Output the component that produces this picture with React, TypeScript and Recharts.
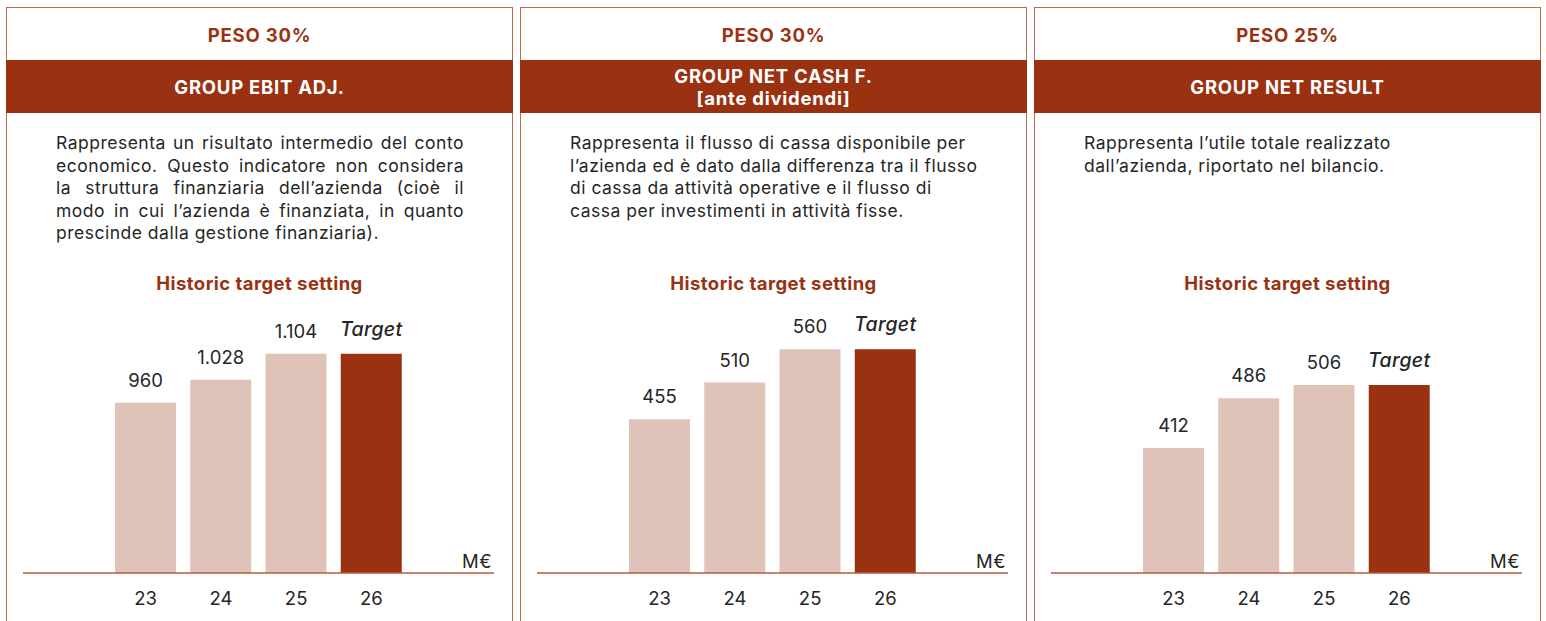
import React from 'react';
import { BarChart, Bar, XAxis, YAxis, Cell, LabelList } from 'recharts';

const categories = ['23', '24', '25', '26'];

const ebitValues = [960, 1028, 1104, 1104];
const ebitLabels = ['960', '1.028', '1.104', 'Target'];

const cashValues = [455, 510, 560, 560];
const cashLabels = ['455', '510', '560', 'Target'];

const resultValues = [412, 486, 506, 506];
const resultLabels = ['412', '486', '506', 'Target'];

const weights = ['PESO 30%', 'PESO 30%', 'PESO 25%'];
const titles = [['GROUP EBIT ADJ.'], ['GROUP NET CASH F.', '[ante dividendi]'], ['GROUP NET RESULT']];
const descriptions = [
  [
    'Rappresenta un risultato intermedio del conto',
    'economico. Questo indicatore non considera',
    'la struttura finanziaria dell\u2019azienda (cio\u00e8 il',
    'modo in cui l\u2019azienda \u00e8 finanziata, in quanto',
    'prescinde dalla gestione finanziaria).',
  ],
  [
    'Rappresenta il flusso di cassa disponibile per',
    'l\u2019azienda ed \u00e8 dato dalla differenza tra il flusso',
    'di cassa da attivit\u00e0 operative e il flusso di',
    'cassa per investimenti in attivit\u00e0 fisse.',
  ],
  ['Rappresenta l\u2019utile totale realizzato', 'dall\u2019azienda, riportato nel bilancio.'],
];
const justified = [true, false, false];
const subtitle = 'Historic target setting';
const unitLabel = 'M\u20ac';

const domains: [number, number][] = [
  [460, 1262],
  [224, 634],
  [225, 633],
];
const seriesValues = [ebitValues, cashValues, resultValues];
const seriesLabels = [ebitLabels, cashLabels, resultLabels];

const RED = '#9a3212';
const LIGHT = '#dfc2b8';
const BORDER = '#c06a4d';
const AXIS = '#b9583a';
const TEXT = '#262626';
const FONT = 'Inter, "Noto Sans", sans-serif';

const PANEL_LEFTS = [6, 520, 1034];
const PANEL_W = 507;

function ValueLabel(p: any) {
  const vb = p.viewBox || {};
  const x = (p.x ?? vb.x) as number;
  const y = (p.y ?? vb.y) as number;
  const w = (p.width ?? vb.width) as number;
  const isT = p.value === 'Target';
  return (
    <text
      x={x + w / 2}
      y={y - (isT ? 18 : 16)}
      textAnchor="middle"
      fontFamily={FONT}
      fontSize={isT ? 19.5 : 18.5}
      fontStyle={isT ? 'italic' : 'normal'}
      fontWeight={isT ? 500 : 400}
      letterSpacing={isT ? 0.3 : 0}
      fill={TEXT}
    >
      {p.value}
    </text>
  );
}

function Tick(p: any) {
  return (
    <text x={p.x} y={p.y + 32} textAnchor="middle" fontFamily={FONT} fontSize={18.5} fill={TEXT}>
      {p.payload.value}
    </text>
  );
}

function Panel({ idx }: { idx: number }) {
  const data = categories.map((c, i) => ({
    year: c,
    value: seriesValues[idx][i],
    label: seriesLabels[idx][i],
  }));
  const twoLine = titles[idx].length > 1;
  return (
    <div style={{ position: 'absolute', left: PANEL_LEFTS[idx], top: 7, width: PANEL_W, height: 614 }}>
      <div
        style={{
          position: 'absolute',
          inset: 0,
          border: `1.5px solid ${BORDER}`,
          borderBottom: 'none',
          boxSizing: 'border-box',
        }}
      />
      <div
        style={{
          position: 'absolute',
          left: 0,
          width: PANEL_W,
          top: 18,
          height: 20,
          lineHeight: '20px',
          textAlign: 'center',
          color: RED,
          fontWeight: 700,
          fontSize: 18.5,
          fontFamily: FONT,
          letterSpacing: 0.8,
        }}
      >
        {weights[idx]}
      </div>
      <div
        style={{
          position: 'absolute',
          left: 0,
          width: PANEL_W,
          top: 53,
          height: 53,
          background: RED,
          color: '#fff',
          fontWeight: 700,
          fontSize: 18.5,
          fontFamily: FONT,
          letterSpacing: 0.75,
          textAlign: 'center',
          display: 'flex',
          flexDirection: 'column',
          justifyContent: 'center',
          lineHeight: twoLine ? '22px' : '20px',
        }}
      >
        {titles[idx].map((t, i) => (
          <div key={i}>{t}</div>
        ))}
      </div>
      <div
        style={{
          position: 'absolute',
          left: 50,
          top: 125,
          width: 408,
          fontFamily: FONT,
          fontSize: 17.5,
          letterSpacing: 0.5,
          lineHeight: '22.5px',
          color: TEXT,
        }}
      >
        {descriptions[idx].map((line, i) => {
          const last = i === descriptions[idx].length - 1;
          const just = justified[idx] && !last;
          return (
            <div
              key={i}
              style={{
                whiteSpace: 'nowrap',
                textAlign: just ? 'justify' : 'left',
                textAlignLast: just ? 'justify' : 'left',
              } as any}
            >
              {line}
            </div>
          );
        })}
      </div>
      <div
        style={{
          position: 'absolute',
          left: 0,
          width: PANEL_W,
          top: 266,
          height: 20,
          lineHeight: '20px',
          textAlign: 'center',
          color: RED,
          fontWeight: 700,
          fontSize: 18.5,
          fontFamily: FONT,
          letterSpacing: 0.45,
        }}
      >
        {subtitle}
      </div>
      <div style={{ position: 'absolute', left: 17, top: 293 }}>
        <BarChart width={471} height={318} data={data} margin={{ top: 0, right: 0, bottom: 0, left: 0 }}>
          <YAxis hide domain={domains[idx]} allowDataOverflow type="number" />
          <XAxis
            dataKey="year"
            height={45}
            padding={{ left: 85, right: 85 }}
            axisLine={{ stroke: AXIS, strokeWidth: 1.5 }}
            tickLine={false}
            tickSize={0}
            tickMargin={0}
            tick={<Tick />}
            interval={0}
          />
          <Bar dataKey="value" barSize={61} isAnimationActive={false}>
            {data.map((d, i) => (
              <Cell key={i} fill={i === data.length - 1 ? RED : LIGHT} />
            ))}
            <LabelList dataKey="label" content={<ValueLabel />} />
          </Bar>
        </BarChart>
      </div>
      <div
        style={{
          position: 'absolute',
          right: 21,
          top: 545,
          fontFamily: FONT,
          fontSize: 18.5,
          lineHeight: '18px',
          letterSpacing: 0.5,
          color: TEXT,
        }}
      >
        {unitLabel}
      </div>
    </div>
  );
}

export default function App() {
  return (
    <div style={{ position: 'absolute', left: 0, top: 0, width: 1546, height: 621, background: '#fff', overflow: 'hidden' }}>
      {[0, 1, 2].map((i) => (
        <Panel key={i} idx={i} />
      ))}
    </div>
  );
}
